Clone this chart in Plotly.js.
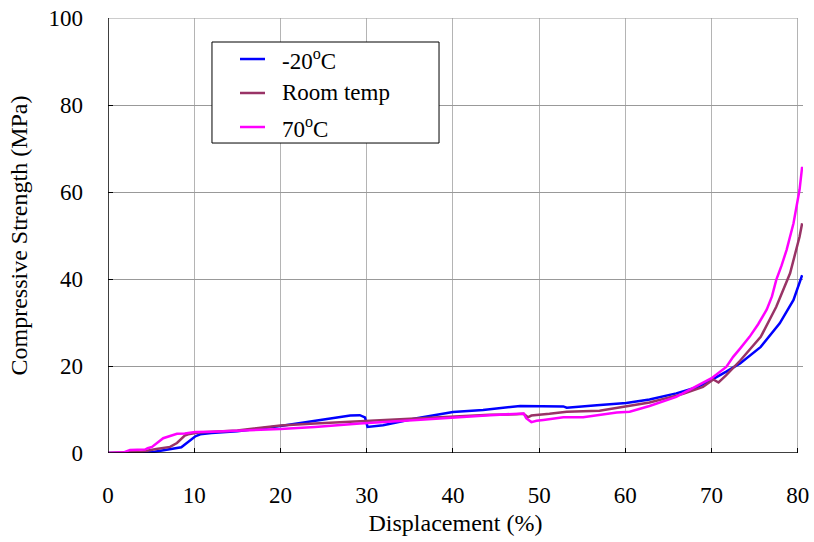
<!DOCTYPE html>
<html>
<head>
<meta charset="utf-8">
<script src="https://cdn.plot.ly/plotly-3.0.1.min.js"></script>
<style>html,body{margin:0;padding:0;background:#fff;}#chart{width:814px;height:542px;}</style>
</head>
<body>
<div id="chart"></div>
<script>
// Data
const seriesNames = ["-20<sup>o</sup>C", "Room temp", "70<sup>o</sup>C"];
const seriesColors = ["#0000FF", "#993366", "#FF00FF"];

const coldX = [0,3.9,5.4,7.4,8.3,8.5,10.1,10.7,12,15,20,24.2,28.1,29.2,29.8,30.1,31.9,35.8,40,43.5,47.8,52.8,53.2,56.7,60.1,62.8,65.9,68.3,70,71.7,73.3,75.7,77.9,79.5,80.2,80.5];
const coldY = [0,0,0.3,0.9,1.2,1.3,3.8,4.3,4.6,5.0,6.2,7.4,8.6,8.7,8.2,6.0,6.4,8.0,9.4,9.9,10.8,10.7,10.4,11.0,11.5,12.3,13.7,15.1,16.8,18.7,20.6,24.4,29.8,35.2,39.0,40.9];

const roomX = [0,3.9,5.6,7.2,8.0,8.9,9.3,10.5,15,20,24,30,35.8,40,44.3,47.4,48.2,48.7,49.1,51.2,53.2,57,59,60.5,62.8,66.7,69,70.2,70.8,71.7,73.3,75.7,77.5,79.1,80.2,80.5];
const roomY = [0,0.3,0.9,1.4,2.3,4.0,4.3,4.7,5.2,6.3,6.8,7.4,8.0,8.5,8.8,8.9,9.0,8.2,8.6,9.0,9.5,9.7,10.3,10.8,11.6,13.6,15.2,16.9,16.2,17.9,21.2,26.7,33.6,41.3,49.7,52.8];

const hotX = [0,1.9,2.55,4.3,4.6,5.1,6.4,7.2,8.0,8.9,10.1,12,15,20,24,29.2,35.8,40,44.3,48.2,48.5,49.1,49.7,50.5,52.8,55.1,59,60.5,62.8,65.9,68.3,70,71.7,72.5,73.3,74.4,75.4,76.4,77.0,77.5,78.1,78.7,79.5,80.2,80.5];
const hotY = [0,0.2,0.7,0.8,1.1,1.4,3.4,3.9,4.4,4.5,4.8,4.9,5.1,5.5,6.0,6.8,7.6,8.2,8.7,9.1,8.0,7.1,7.4,7.6,8.2,8.2,9.3,9.5,10.8,12.9,15.4,17.2,19.8,22.1,24.0,26.7,29.6,33.0,36.0,39.8,43.0,46.7,52.8,60.5,65.8];

const xTicks = [0,10,20,30,40,50,60,70,80];
const yTicks = [0,20,40,60,80,100];
const xTitle = "Displacement (%)";
const yTitle = "Compressive Strength (MPa)";

const FONT = "Times New Roman";
const allX = [coldX, roomX, hotX];
const allY = [coldY, roomY, hotY];

const traces = allX.map((xs, i) => ({
  type: "scatter", mode: "lines",
  x: xs, y: allY[i], name: seriesNames[i],
  line: {color: seriesColors[i], width: 2.5},
  showlegend: false
}));

const shapes = [];
// plot frame: black left/bottom axes, gray top border
shapes.push({type:"line", xref:"x", yref:"y", x0:0, x1:80, y0:100, y1:100, line:{color:"#999", width:1}});
shapes.push({type:"line", xref:"x", yref:"y", x0:0, x1:80, y0:0, y1:0, line:{color:"#000", width:1.5}});
shapes.push({type:"line", xref:"x", yref:"y", x0:0, x1:0, y0:0, y1:100, line:{color:"#000", width:1.5}});

// legend box (drawn manually to match the reference layout)
const legBox = {x0:0.1496, x1:0.4763, y0:0.7126, y1:0.9448};
const legLineX = [0.1899, 0.2259];
const legRowY = [0.9057, 0.8276, 0.7494];
const legTextX = 0.2475;
shapes.push({type:"rect", xref:"paper", yref:"paper", layer:"above",
  x0:legBox.x0, x1:legBox.x1, y0:legBox.y0, y1:legBox.y1,
  fillcolor:"#fff", line:{color:"#000", width:1}});
const annotations = [];
seriesNames.forEach((nm, i) => {
  shapes.push({type:"line", xref:"paper", yref:"paper", layer:"above",
    x0:legLineX[0], x1:legLineX[1], y0:legRowY[i], y1:legRowY[i],
    line:{color:seriesColors[i], width:2.5}});
  annotations.push({xref:"paper", yref:"paper", x:legTextX, y:legRowY[i],
    xanchor:"left", yanchor:"middle", showarrow:false, text:nm,
    font:{family:FONT, size:23, color:"#000"}});
});

const layout = {
  width: 814, height: 542,
  margin: {l:108, r:11, t:18, b:89},
  paper_bgcolor: "#fff", plot_bgcolor: "#fff",
  font: {family: FONT, size: 23, color: "#000"},
  xaxis: {
    range: [0, 80.6], tickvals: xTicks, ticktext: xTicks.map(String),
    showgrid: true, gridcolor: "#b4b4b4", gridwidth: 1,
    zeroline: false, showline: false,
    ticks: "inside", ticklen: 5, tickcolor: "#000", tickwidth: 1,
    ticklabelstandoff: 26,
    tickfont: {family: FONT, size: 23},
    title: {text: xTitle, font: {family: FONT, size: 24}, standoff: 7},
    automargin: false, fixedrange: true
  },
  yaxis: {
    range: [0, 100], tickvals: yTicks, ticktext: yTicks.map(String),
    showgrid: true, gridcolor: "#999", gridwidth: 1,
    zeroline: false, showline: false,
    ticks: "inside", ticklen: 5, tickcolor: "#000", tickwidth: 1,
    ticklabelstandoff: 24,
    tickfont: {family: FONT, size: 23},
    title: {text: yTitle, font: {family: FONT, size: 24}, standoff: 14},
    automargin: false, fixedrange: true
  },
  shapes: shapes,
  annotations: annotations,
  showlegend: false
};

Plotly.newPlot("chart", traces, layout, {displayModeBar: false, staticPlot: true});
</script>
</body>
</html>
